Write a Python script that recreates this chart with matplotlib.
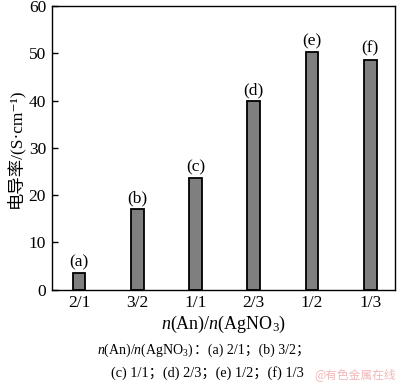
import matplotlib
matplotlib.use("Agg")
import matplotlib.pyplot as plt

categories = ["2/1", "3/2", "1/1", "2/3", "1/2", "1/3"]
values = [3.4, 17.0, 23.6, 39.9, 50.3, 48.7]
bar_labels = ["(a)", "(b)", "(c)", "(d)", "(e)", "(f)"]
yticks = [0, 10, 20, 30, 40, 50, 60]

FAM = ['Liberation Serif', 'DejaVu Serif', 'Noto Sans CJK SC']
plt.rcParams['font.family'] = FAM
plt.rcParams['mathtext.fontset'] = 'custom'
plt.rcParams['mathtext.rm'] = 'Liberation Serif'
plt.rcParams['mathtext.it'] = 'Liberation Serif:italic'
plt.rcParams['mathtext.bf'] = 'Liberation Serif:bold'

fig = plt.figure(figsize=(4.0, 3.85), dpi=100)
ax = fig.add_axes([0.129, 0.248, 0.858, 0.736])

x = list(range(len(categories)))
ax.bar(x, values, width=0.22, color='#7f7f7f', edgecolor='black', linewidth=1.3)
for xi, v, lab in zip(x, values, bar_labels):
    ax.annotate(lab, (xi, v), xytext=(0, 2), textcoords='offset points',
                ha='center', va='bottom', fontsize=12.5)

ax.set_xlim(-0.47, 5.42)
ax.set_ylim(0, 60)
ax.set_yticks(yticks)
ax.set_xticks(x)
ax.set_xticklabels(categories)
ax.tick_params(axis='y', direction='in', length=4, width=1, labelsize=12.5, pad=4)
ax.tick_params(axis='x', length=0, labelsize=12.5, pad=4)
for s in ax.spines.values():
    s.set_linewidth(1.0)

ax.set_ylabel('电导率/(S·cm⁻¹)', fontsize=12.5, labelpad=3, family=FAM)
ax.set_xlabel('$n$(An)/$n$(AgNO$_3$)', fontsize=13, labelpad=2)

# caption line 1 in two pieces (mathtext + CJK punctuation)
y1 = 0.082
t1 = fig.text(0.243, y1, '$n$(An)/$n$(AgNO$_3$)', ha='left', va='baseline', fontsize=10)
fig.canvas.draw()
bb = t1.get_window_extent(renderer=fig.canvas.get_renderer())
x_end = bb.x1 / fig.bbox.width
fig.text(x_end, y1, '：(a) 2/1；(b) 3/2；', ha='left', va='baseline', fontsize=10)

fig.text(0.518, 0.022, '(c) 1/1；(d) 2/3；(e) 1/2；(f) 1/3', ha='center', va='baseline', fontsize=10.3)
fig.text(0.99, 0.028, '@有色金属在线', ha='right', va='center', fontsize=8.5,
         color='#f2b8b8', family=['Noto Sans CJK SC'])

fig.savefig('out.png', dpi=100)
